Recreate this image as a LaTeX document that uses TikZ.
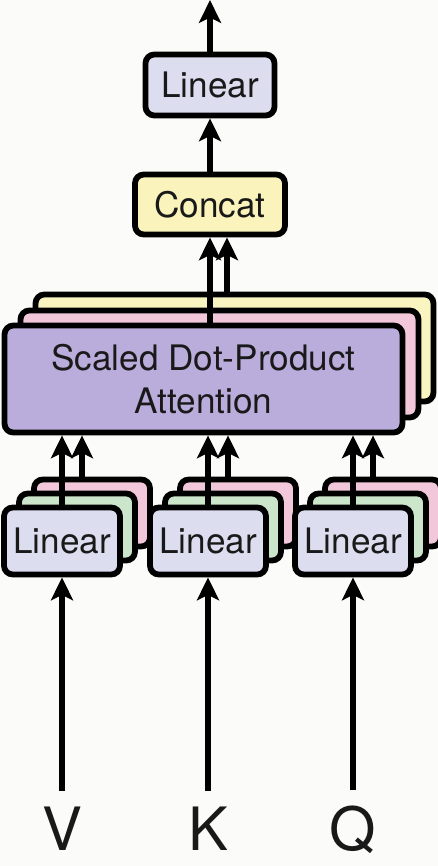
\documentclass[tikz,border=0pt]{standalone}
\usepackage{fontspec}
\setmainfont{TeX Gyre Heros}
\usetikzlibrary{calc,arrows.meta,positioning}
\definecolor{paper}{RGB}{251,251,249}
\definecolor{linfill}{RGB}{221,221,240}
\definecolor{catfill}{RGB}{250,243,187}
\definecolor{attfill}{RGB}{186,172,219}
\definecolor{pinkfill}{RGB}{243,199,218}
\definecolor{greenfill}{RGB}{203,230,203}
\definecolor{yelfill}{RGB}{250,245,192}
\tikzset{
  blk/.style={draw=black,line width=3.3pt,rounded corners=5pt,inner sep=0pt,
    align=center,text=black!90,font=\fontsize{20}{24.4}\selectfont},
  linblk/.style={blk,minimum width=2.32cm,minimum height=1.34cm},
  attblk/.style={blk,minimum width=7.96cm,minimum height=2.14cm},
  flow/.style={-{Stealth[length=13pt,width=12.5pt,inset=3pt]},line width=3pt},
  inlbl/.style={anchor=base,inner sep=8.5pt,font=\fontsize{34}{40}\selectfont,text=black!90}
}

\begin{document}
\begin{tikzpicture}[x=0.02cm,y=-0.02cm]
  \fill[paper] (0,0) rectangle (438,866);
  \useasboundingbox (0,0) rectangle (438,866);
  % output side
  \coordinate (out) at (210,0);
  \node[blk,fill=linfill,minimum width=2.58cm,minimum height=1.22cm] (lintop) at (210,85) {Linear};
  \node[blk,fill=catfill,minimum width=3.0cm,minimum height=1.2cm] (concat) at (210,204.5) {Concat};
  % attention heads
  \node[attblk,fill=yelfill] (attb) at (234.5,348) {};
  \node[attblk,fill=pinkfill] (attm) at (219.5,364) {};
  \node[attblk,fill=attfill] (att) at (203.5,379) {Scaled Dot-Product\\Attention};
  % linear projections
  \node[linblk,fill=pinkfill] (lin1p) at (92,513) {};
  \node[linblk,fill=greenfill] (lin1g) at (77,527) {};
  \node[linblk,fill=linfill] (lin1) at (62,541) {Linear};
  \node[linblk,fill=pinkfill] (lin2p) at (238,513) {};
  \node[linblk,fill=greenfill] (lin2g) at (223,527) {};
  \node[linblk,fill=linfill] (lin2) at (208,541) {Linear};
  \node[linblk,fill=pinkfill] (lin3p) at (383,513) {};
  \node[linblk,fill=greenfill] (lin3g) at (368,527) {};
  \node[linblk,fill=linfill] (lin3) at (353,541) {Linear};
  % inputs
  \node[inlbl] (v) at (62,850) {V};
  \node[inlbl] (k) at (208,850) {K};
  \node[inlbl] (q) at (353,850) {Q};
  \draw[flow] (v.north) -- (lin1.south);
  \draw[flow] (k.north) -- (lin2.south);
  \draw[flow] (q.north) -- (lin3.south);
  \coordinate (l1) at ([xshift=-0.2cm]lin1p.north);
  \coordinate (l2) at ([xshift=-0.2cm]lin2p.north);
  \coordinate (l3) at ([xshift=-0.2cm]lin3p.north);
  \draw[flow] (lin1.north) -- (lin1.north |- att.south);
  \draw[flow] (l1) -- (l1 |- att.south);
  \draw[flow] (lin2.north) -- (lin2.north |- att.south);
  \draw[flow] (l2) -- (l2 |- att.south);
  \draw[flow] (lin3.north) -- (lin3.north |- att.south);
  \draw[flow] (l3) -- (l3 |- att.south);
  \coordinate (c2) at ([xshift=0.34cm]concat.south);
  \draw[flow] (concat.south |- att.north) -- (concat.south);
  \draw[flow] (c2 |- attb.north) -- (c2);
  \draw[flow] (concat.north) -- (lintop.south);
  \draw[flow] (lintop.north) -- (out);
\end{tikzpicture}
\end{document}
